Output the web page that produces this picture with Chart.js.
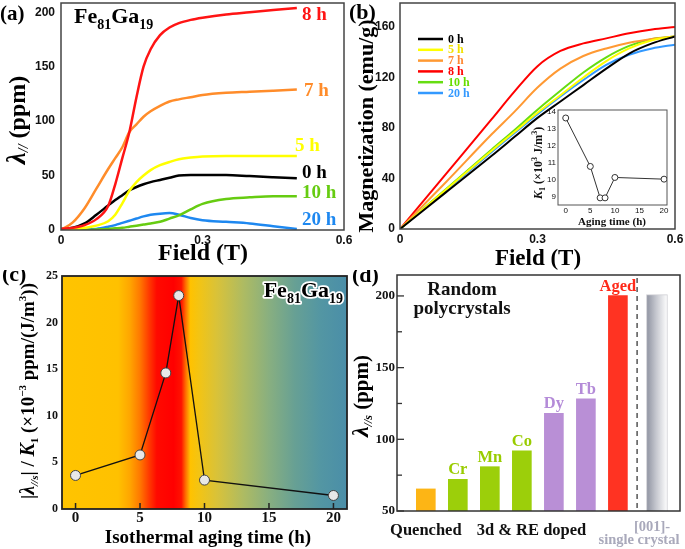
<!DOCTYPE html>
<html><head><meta charset="utf-8">
<script src="https://cdn.jsdelivr.net/npm/chart.js@4.4.1/dist/chart.umd.min.js"></script>
<style>
html,body{margin:0;padding:0;background:#fff;}
#wrap{position:relative;width:685px;height:549px;overflow:hidden;background:#fff}
canvas{position:absolute}
</style></head><body>
<div id="wrap">
<canvas id="ca" width="365" height="270" style="left:0;top:0"></canvas>
<canvas id="cb" width="340" height="270" style="left:345px;top:0"></canvas>
<canvas id="ci" width="154" height="132" style="left:518px;top:104px"></canvas>
<canvas id="cc" width="355" height="279" style="left:0;top:270px"></canvas>
<canvas id="cd" width="340" height="279" style="left:345px;top:270px"></canvas>
</div>
<script>
// ---------------- DATA ----------------
// (a) magnetostriction vs field
const fieldA = [0,0.025,0.05,0.075,0.1,0.115,0.13,0.145,0.16,0.175,0.19,0.21,0.23,0.25,0.275,0.3,0.35,0.4,0.45,0.5];
const lam8h  = [1,2,4.5,10,22,42,66,90,122,150,166,179,186,190,193,195,198,200,202,204];
const lam7h  = [0,7,20,38,56,66,76,90,97,104,109,114,118,120,122,124,126,127,128,129];
const lam5h  = [0,0.5,2,4,8,14,24.5,36,44,50,55,59.5,62.5,65,66.5,67.5,68,68,68,68];
const lam0h  = [1,2,6,14,22.5,27.5,32,36.5,39.5,42,44,46,48,50,50.5,50.5,50.5,49.5,48.5,47.5];
const lam10h = [0,0,0,0.5,1,1.5,2,3,4,5,6,7.5,10.5,13.5,19,24,28.5,30,31,31];
const lam20h = [0,0,0.3,1,3,4.5,6.5,8.5,10.5,12.5,14,15,15.5,14,11,9,7.5,6,3.5,1];
const xTicksA = [0,0.3,0.6];
const yTicksA = [0,50,100,150,200];

// (b) magnetization vs field
const fieldB = [0,0.1,0.2,0.25,0.3,0.35,0.4,0.45,0.5,0.55,0.6];
const mag0h  = [0,29,58,73,88,101,114,127,139,147,152.5];
const mag5h  = [0,31,62,77,92,106,120,133,143,149.5,152.5];
const mag7h  = [0,37,75,93,112,127,137,143,147.5,150.5,152.5];
const mag8h  = [0,43.5,87,109,129,141,147,151,155,158,160];
const mag10h = [0,31.5,63,78.5,94.5,109.5,124,136,145,150.5,152.5];
const mag20h = [0,30.5,61,76,91,105,118,130,138,143,146];
const agingLabels = ['0 h','5 h','7 h','8 h','10 h','20 h'];
const xTicksB = [0,0.3,0.6];
const yTicksB = [0,40,80,120,160];

// inset: K1 vs aging time
const agingTime = [0,5,7,8,10,20];
const k1 = [13.65,10.8,8.95,8.95,10.15,10.05];
const xTicksI = [0,5,10,15,20];
const yTicksI = [9,10,11,12,13,14];

// (c) |lambda|/K1 vs aging time
const ratioC = [3.6,5.8,14.6,22.9,3.1,1.45];
const xTicksC = [0,5,10,15,20];
const yTicksC = [0,5,10,15,20,25];

// (d) bars
const barCats = ['Quenched','Cr','Mn','Co','Dy','Tb','Aged'];
const barVals = [65.4,72.1,80.9,91.9,118.2,128.2,200.2];
const crystalVal = 200.9;
const yTicksD = [50,100,150,200];
const yMinorD = [75,125,175];

// ---------------- HELPERS ----------------
const SERIF = '"Liberation Serif","Times New Roman",serif';
const SANS = '"Liberation Sans",Arial,sans-serif';
function F(size, italic, fam, weight){ return (italic?'italic ':'') + (weight||'bold') + ' ' + size + 'px ' + (fam||SERIF); }
function rich(ctx, x, y, segs, align, outline){
  let w = 0;
  segs.forEach(s=>{ ctx.font = F(s.s, s.i, s.f); s._w = ctx.measureText(s.t).width; w += s._w; });
  let cx = align==='center' ? x - w/2 : (align==='right' ? x - w : x);
  ctx.textAlign = 'left'; ctx.textBaseline = 'alphabetic';
  segs.forEach(s=>{
    ctx.font = F(s.s, s.i, s.f);
    if (outline){ ctx.save(); ctx.strokeStyle = outline; ctx.lineWidth = 3.5; ctx.lineJoin='round'; ctx.strokeText(s.t, cx, y + (s.dy||0)); ctx.restore(); }
    ctx.fillText(s.t, cx, y + (s.dy||0)); cx += s._w;
  });
}
function txt(ctx, t, x, y, font, color, align, base){
  ctx.font = font; ctx.fillStyle = color; ctx.textAlign = align||'left'; ctx.textBaseline = base||'alphabetic';
  ctx.fillText(t, x, y);
}
function frame(ctx, a, color, lw){
  ctx.save(); ctx.strokeStyle = color||'#333'; ctx.lineWidth = lw||1.5;
  ctx.strokeRect(a.left, a.top, a.right-a.left, a.bottom-a.top); ctx.restore();
}
function lin(min, max, ticks, fit, horiz, font, pad, show){
  return {type:'linear', min, max, grid:{display:false, drawTicks:false, tickLength:0}, border:{display:false},
    afterBuildTicks: s=>{ s.ticks = ticks.map(v=>({value:v})); },
    afterFit: s=>{ if (horiz) s.height = fit; else s.width = fit; s.paddingTop=0; s.paddingBottom=0; s.paddingLeft=0; s.paddingRight=0; },
    ticks:{display: show!==false, font, color:'#111', padding:pad, maxRotation:0, minRotation:0, autoSkip:false, callback: v=>String(v)}};
}
function base(pad){
  return {responsive:false, animation:false, events:[], layout:{padding:pad},
    plugins:{legend:{display:false}, tooltip:{enabled:false}}};
}
const pts = (xs, ys) => xs.map((x,i)=>({x, y: ys[i]}));

// ---------------- (a) ----------------
const colA = {'8 h':'#FF1414','7 h':'#FF8C2A','5 h':'#FFFF00','0 h':'#000000','10 h':'#66CC11','20 h':'#1E88F0'};
const seriesA = [['8 h',lam8h],['7 h',lam7h],['5 h',lam5h],['0 h',lam0h],['10 h',lam10h],['20 h',lam20h]];
const labPosA = {'8 h':[302,20],'7 h':[304,96],'5 h':[295,151],'0 h':[302,178],'10 h':[302,198],'20 h':[302,225]};
new Chart(document.getElementById('ca'), {
  type:'line',
  data:{datasets: seriesA.map(([n,v])=>({label:n, data:pts(fieldA,v), borderColor:colA[n], borderWidth:2.5, pointRadius:0, cubicInterpolationMode:'monotone', fill:false}))},
  options: Object.assign(base({left:0,top:3,right:21,bottom:0}), {
    scales:{
      x: lin(0,0.6,xTicksA,40,true,{family:SANS,weight:'bold',size:12},3),
      y: lin(0,208.5,yTicksA,61,false,{family:SANS,weight:'bold',size:12},6)
    }}),
  plugins:[{id:'decoA', afterDraw(c){
    const ctx=c.ctx, a=c.chartArea;
    frame(ctx,a,'#444',1.5);
    ctx.fillStyle='#000';
    rich(ctx,74,23,[{t:'Fe',s:22},{t:'81',s:14,dy:6},{t:'Ga',s:22},{t:'19',s:14,dy:6}],'left');
    c.data.datasets.forEach(d=>{ const p=labPosA[d.label]; txt(ctx,d.label,p[0],p[1],F(19),colA[d.label]); });
    txt(ctx,'Field (T)',203,260,F(24),'#000','center');
    ctx.save(); ctx.translate(25,120); ctx.rotate(-Math.PI/2); ctx.fillStyle='#000';
    rich(ctx,0,0,[{t:'λ',s:27,i:true},{t:'//',s:14,i:true,dy:3},{t:' (ppm)',s:24}],'center'); ctx.restore();
    txt(ctx,'(a)',0,20,F(21),'#000');
  }}]
});

// ---------------- (b) ----------------
const colB = ['#000000','#FFFF00','#FF9933','#FF0000','#66DD11','#3399FF'];
const txtColB = ['#000000','#F2E200','#FF8833','#FF0000','#66DD00','#3399FF'];
const seriesB = [mag0h,mag5h,mag7h,mag8h,mag10h,mag20h];
new Chart(document.getElementById('cb'), {
  type:'line',
  data:{datasets: seriesB.map((v,i)=>({label:agingLabels[i], data:pts(fieldB,v), borderColor:colB[i], borderWidth:2, pointRadius:0, cubicInterpolationMode:'monotone', fill:false}))},
  options: Object.assign(base({left:0,top:3,right:10,bottom:0}), {
    scales:{
      x: lin(0,0.6,xTicksB,41,true,{family:SANS,weight:'bold',size:12},3),
      y: lin(0,179,yTicksB,55,false,{family:SANS,weight:'bold',size:12},5)
    }}),
  plugins:[{id:'decoB', afterDraw(c){
    const ctx=c.ctx, a=c.chartArea;
    frame(ctx,a,'#444',1.5);
    c.data.datasets.forEach((d,i)=>{
      const y = 39 + i*10.8;
      ctx.strokeStyle=d.borderColor; ctx.lineWidth=2.5; ctx.beginPath(); ctx.moveTo(73,y); ctx.lineTo(98,y); ctx.stroke();
      txt(ctx,d.label,103,y+0.5,F(12),txtColB[i],'left','middle');
    });
    txt(ctx,'Field (T)',193,265,F(23),'#000','center');
    ctx.save(); ctx.translate(28,126); ctx.rotate(-Math.PI/2);
    txt(ctx,'Magnetization (emu/g)',0,0,F(22),'#000','center'); ctx.restore();
    txt(ctx,'(b)',4,19,F(22),'#000');
  }}]
});

// ---------------- inset ----------------
new Chart(document.getElementById('ci'), {
  type:'line',
  data:{datasets:[{data:pts(agingTime,k1), borderColor:'#333', borderWidth:1, pointRadius:3, pointBackgroundColor:'#fff', pointBorderColor:'#333', pointBorderWidth:1, tension:0}]},
  options: Object.assign(base({left:0,top:6,right:5,bottom:0}), {
    scales:{
      x: lin(-1.57,20.6,xTicksI,31,true,{family:SANS,weight:'normal',size:8},1),
      y: lin(8.53,14.12,yTicksI,40,false,{family:SANS,weight:'normal',size:8},2)
    }}),
  plugins:[{id:'bgI', beforeDraw(c){ const a=c.chartArea, ctx=c.ctx; ctx.fillStyle='#fff'; ctx.fillRect(a.left,a.top,a.right-a.left,a.bottom-a.top); },
    afterDraw(c){
      const ctx=c.ctx, a=c.chartArea;
      frame(ctx,a,'#555',1);
      txt(ctx,'Aging time (h)',94,121,F(11),'#111','center');
      ctx.save(); ctx.translate(24,59); ctx.rotate(-Math.PI/2); ctx.fillStyle='#111';
      rich(ctx,0,0,[{t:'K',s:12.5,i:true},{t:'1',s:8,dy:3},{t:' (×10',s:12},{t:'3',s:8,dy:-5},{t:' J/m',s:12},{t:'3',s:8,dy:-5},{t:')',s:12}],'center');
      ctx.restore();
  }}]
});

// ---------------- (c) ----------------
const gradC = [[-1.05,'#FFC400'],[3.3,'#FFC100'],[4.2,'#FFA600'],[5.0,'#FF7800'],[5.7,'#FF3A00'],[6.3,'#FF0A00'],[7.6,'#FF0000'],[8.2,'#FF1200'],[8.55,'#FF7000'],[8.9,'#FFC200'],[9.6,'#F2C415'],[11,'#D8C23A'],[13,'#AEBB62'],[15,'#88AF80'],[17,'#67A094'],[19,'#5396A3'],[21.05,'#4A8EA8']];
new Chart(document.getElementById('cc'), {
  type:'line',
  data:{datasets:[{data:pts(agingTime,ratioC), borderColor:'#111', borderWidth:1.3, pointRadius:5, pointBackgroundColor:'#E8E8E8', pointBorderColor:'#444', pointBorderWidth:1, tension:0}]},
  options: Object.assign(base({left:0,top:6,right:8,bottom:0}), {
    scales:{
      x: lin(-1.05,21.05,xTicksC,40,true,{family:SERIF,weight:'bold',size:15},0),
      y: lin(0,25,yTicksC,62,false,{family:SERIF,weight:'bold',size:12},4)
    }}),
  plugins:[{id:'decoC', beforeDatasetsDraw(c){
      const ctx=c.ctx, a=c.chartArea, xs=c.scales.x;
      const x0=xs.getPixelForValue(-1.05), x1=xs.getPixelForValue(21.05);
      const g=ctx.createLinearGradient(x0,0,x1,0);
      gradC.forEach(([v,col])=>g.addColorStop(Math.min(1,Math.max(0,(v+1.05)/22.1)),col));
      ctx.fillStyle=g; ctx.fillRect(a.left,a.top,a.right-a.left,a.bottom-a.top);
    },
    afterDraw(c){
      const ctx=c.ctx, a=c.chartArea, xs=c.scales.x;
      frame(ctx,a,'#222',1.8);
      ctx.strokeStyle='#222'; ctx.lineWidth=1.5;
      xTicksC.forEach(v=>{ const p=xs.getPixelForValue(v); ctx.beginPath(); ctx.moveTo(p,a.bottom); ctx.lineTo(p,a.bottom-6); ctx.stroke(); });
      ctx.fillStyle='#000';
      rich(ctx,343,27,[{t:'Fe',s:22},{t:'81',s:14,dy:6},{t:'Ga',s:22},{t:'19',s:14,dy:6}],'right','#fff');
      txt(ctx,'Isothermal aging time (h)',208,273,F(19),'#000','center');
      ctx.save(); ctx.translate(34,121); ctx.rotate(-Math.PI/2); ctx.fillStyle='#000';
      rich(ctx,0,0,[{t:'|',s:19},{t:'λ',s:20,i:true},{t:'//s',s:11,i:true,dy:4},{t:'| / ',s:19},{t:'K',s:20,i:true},{t:'1',s:11,dy:4},{t:' (×10',s:19},{t:'−3',s:11,dy:-8},{t:' ppm/(J/m',s:19},{t:'3',s:11,dy:-8},{t:'))',s:19}],'center');
      ctx.restore();
      txt(ctx,'(c)',2,11,F(22),'#000');
  }}]
});

// ---------------- (d) ----------------
const barCol = ['#FDB515','#9CCF0A','#9CCF0A','#9CCF0A','#B98FD6','#B98FD6','#FF3322'];
const barTxtCol = ['#FDB515','#99CC00','#99CC00','#99CC00','#B48BD8','#B48BD8','#FF2A1A'];
const crystalX = 8.22, dividerX = 7.6;
new Chart(document.getElementById('cd'), {
  type:'bar',
  data:{datasets:[
    {data: barVals.map((v,i)=>({x:i+1, y:v})), backgroundColor: barCol, barThickness:19, base:50, grouped:false},
    {data: [{x:crystalX, y:crystalVal}], barThickness:21, base:50, grouped:false, borderColor:'#cfcfd4', borderWidth:1, borderSkipped:'bottom',
     backgroundColor: (ctx)=>{ const ch=ctx.chart; if(!ch.chartArea) return '#aaa';
       const p=ch.scales.x.getPixelForValue(crystalX); const g=ch.ctx.createLinearGradient(p-10.5,0,p+10.5,0);
       g.addColorStop(0,'#8E92A0'); g.addColorStop(0.45,'#C4C6CE'); g.addColorStop(1,'#FFFFFF'); return g; }}
  ]},
  options: Object.assign(base({left:0,top:5,right:5,bottom:0}), {
    scales:{
      x: Object.assign(lin(0.1,8.94,[],38,true,{family:SERIF,weight:'bold',size:12},2,false), {offset:false}),
      y: lin(50,214.6,yTicksD,52,false,{family:SERIF,weight:'bold',size:13},2)
    }}),
  plugins:[{id:'decoD', afterDraw(c){
    const ctx=c.ctx, a=c.chartArea, xs=c.scales.x, ys=c.scales.y;
    frame(ctx,a,'#333',1.5);
    ctx.strokeStyle='#333'; ctx.lineWidth=1.3;
    yTicksD.forEach(v=>{ const p=ys.getPixelForValue(v); ctx.beginPath(); ctx.moveTo(a.left,p); ctx.lineTo(a.left+7,p); ctx.stroke(); });
    yMinorD.forEach(v=>{ const p=ys.getPixelForValue(v); ctx.beginPath(); ctx.moveTo(a.left,p); ctx.lineTo(a.left+5,p); ctx.stroke(); });
    const dx = xs.getPixelForValue(dividerX);
    ctx.save(); ctx.setLineDash([5,4]); ctx.strokeStyle='#555'; ctx.lineWidth=1.5;
    ctx.beginPath(); ctx.moveTo(dx,a.top+3); ctx.lineTo(dx,a.bottom); ctx.stroke(); ctx.restore();
    const meta=c.getDatasetMeta(0);
    meta.data.forEach((el,i)=>{ if(i===0) return; txt(ctx,barCats[i],el.x,el.y-5,F(16.5),barTxtCol[i],'center'); });
    txt(ctx,'Random',117,25,F(19),'#111','center');
    txt(ctx,'polycrystals',117,44,F(19),'#111','center');
    txt(ctx,'Quenched',xs.getPixelForValue(1),265,F(16.5),'#111','center');
    txt(ctx,'3d & RE doped',xs.getPixelForValue(4.3),265,F(16.5),'#111','center');
    txt(ctx,'[001]-',307,261,F(14.5),'#A9A9BB','center');
    txt(ctx,'single crystal',294,274,F(14.5),'#A9A9BB','center');
    ctx.save(); ctx.translate(23,126); ctx.rotate(-Math.PI/2); ctx.fillStyle='#000';
    rich(ctx,0,0,[{t:'λ',s:24,i:true},{t:'//s',s:12,i:true,dy:4},{t:' (ppm)',s:21}],'center'); ctx.restore();
    txt(ctx,'(d)',7,12,F(22),'#000');
  }}]
});
</script>
</body></html>
